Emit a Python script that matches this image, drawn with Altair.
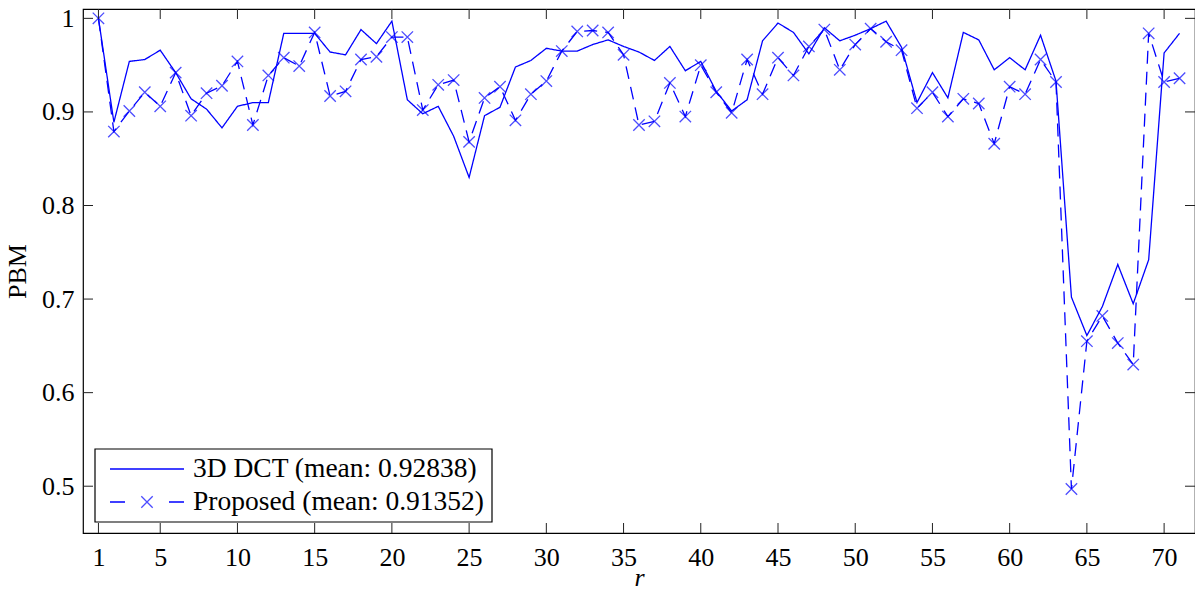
import altair as alt
import pandas as pd

# Frame index r = 1..71
r_values = list(range(1, 72))

# PBM per frame, 3D DCT method
dct_pbm = [
    1.000, 0.889, 0.954, 0.956, 0.966, 0.942, 0.914, 0.903, 0.883, 0.906,
    0.910, 0.910, 0.984, 0.984, 0.984, 0.964, 0.961, 0.988, 0.973, 0.997,
    0.913, 0.898, 0.906, 0.874, 0.830, 0.896, 0.905, 0.948, 0.955, 0.968,
    0.965, 0.965, 0.972, 0.977, 0.970, 0.964, 0.955, 0.970, 0.944, 0.954,
    0.922, 0.901, 0.913, 0.976, 0.995, 0.985, 0.962, 0.990, 0.976, 0.982,
    0.989, 0.997, 0.969, 0.910, 0.942, 0.915, 0.985, 0.977, 0.945, 0.958,
    0.945, 0.982, 0.933, 0.702, 0.661, 0.692, 0.737, 0.695, 0.742, 0.963,
    0.984,
]

# PBM per frame, proposed method
proposed_pbm = [
    1.000, 0.879, 0.901, 0.921, 0.906, 0.942, 0.896, 0.920, 0.928, 0.954,
    0.886, 0.939, 0.958, 0.949, 0.985, 0.917, 0.922, 0.956, 0.959, 0.980,
    0.980, 0.902, 0.929, 0.934, 0.868, 0.915, 0.927, 0.891, 0.919, 0.933,
    0.965, 0.986, 0.987, 0.985, 0.961, 0.886, 0.890, 0.931, 0.895, 0.950,
    0.921, 0.899, 0.956, 0.919, 0.958, 0.939, 0.970, 0.988, 0.945, 0.972,
    0.989, 0.975, 0.966, 0.904, 0.921, 0.895, 0.914, 0.909, 0.866, 0.927,
    0.919, 0.956, 0.932, 0.497, 0.655, 0.682, 0.653, 0.630, 0.984, 0.932,
    0.936,
]

series_names = ["3D DCT (mean: 0.92838)", "Proposed (mean: 0.91352)"]
x_ticks = [1, 5, 10, 15, 20, 25, 30, 35, 40, 45, 50, 55, 60, 65, 70]
y_ticks = [0.5, 0.6, 0.7, 0.8, 0.9, 1.0]

W, H = 1112, 524
FONT = "Liberation Serif"
BLUE = "#0000ff"
TICK_LEN = 10
LINE_W = 1.3
DASH = [13, 8]

# thin "x" marker
X_MARK = "M-1,-1L1,1M-1,1L1,-1"
MARK_SIZE = 130

df = pd.DataFrame({
    "r": r_values * 2,
    "pbm": dct_pbm + proposed_pbm,
    "series": [series_names[0]] * len(r_values) + [series_names[1]] * len(r_values),
})
xt = pd.DataFrame({"r": x_ticks})
yt = pd.DataFrame({"pbm": y_ticks})

x_scale = alt.Scale(domain=[0, 72], nice=False, zero=False)
y_scale = alt.Scale(domain=[0.45, 1.01], nice=False, zero=False)

x_axis = alt.Axis(
    values=x_ticks, title="r", grid=False, domain=False, ticks=False, tickSize=0,
    labelFont=FONT, labelFontSize=26, labelColor="black", labelPadding=11,
    labelFlush=False, labelOverlap=False,
    titleFont=FONT, titleFontSize=26, titleFontStyle="italic",
    titleFontWeight="normal", titleColor="black",
    titleBaseline="alphabetic", titleY=52,
)
y_axis = alt.Axis(
    values=y_ticks, format=".1~f", title="PBM", grid=False, domain=False,
    ticks=False, tickSize=0,
    labelFont=FONT, labelFontSize=26, labelColor="black", labelPadding=9,
    titleFont=FONT, titleFontSize=26, titleFontWeight="normal",
    titleColor="black", titleAngle=270, titleAlign="center",
    titleBaseline="middle", titleX=-66, titleY=H / 2,
)

X = alt.X("r:Q", scale=x_scale, axis=x_axis)
Y = alt.Y("pbm:Q", scale=y_scale, axis=y_axis)

# --- data series -----------------------------------------------------------
lines = alt.Chart(df).mark_line(color=BLUE, strokeWidth=LINE_W).encode(
    x=X, y=Y,
    strokeDash=alt.StrokeDash(
        "series:N",
        scale=alt.Scale(domain=series_names, range=[[1, 0], DASH]),
        legend=None,
    ),
)

markers = alt.Chart(df).transform_filter(
    alt.datum.series == series_names[1]
).mark_point(
    shape=X_MARK, filled=False, color=BLUE, size=MARK_SIZE, strokeWidth=LINE_W
).encode(x=X, y=Y)

# --- inward ticks on all four sides ----------------------------------------
tick_style = dict(color="#222222", strokeWidth=1)
bottom_ticks = alt.Chart(xt).mark_rule(**tick_style).encode(
    x=X, y=alt.value(H), y2=alt.value(H - TICK_LEN))
top_ticks = alt.Chart(xt).mark_rule(**tick_style).encode(
    x=X, y=alt.value(0), y2=alt.value(TICK_LEN))
left_ticks = alt.Chart(yt).mark_rule(**tick_style).encode(
    y=Y, x=alt.value(0), x2=alt.value(TICK_LEN))
right_ticks = alt.Chart(yt).mark_rule(**tick_style).encode(
    y=Y, x=alt.value(W - TICK_LEN), x2=alt.value(W))

# --- boxed legend in the lower-left corner ---------------------------------
LEG_X0, LEG_X1 = 12, 409          # box left / right
LEG_Y0, LEG_Y1 = 440, 513         # box top / bottom
ROW_Y = [460, 493]                # row centres
SAMPLE_X0, SAMPLE_X1 = 27, 101    # line sample extent
TEXT_X = 110

one = pd.DataFrame({"k": [0]})
legend_box = alt.Chart(one).mark_rect(
    fill="white", stroke="black", strokeWidth=1.2
).encode(
    x=alt.value(LEG_X0), x2=alt.value(LEG_X1),
    y=alt.value(LEG_Y0), y2=alt.value(LEG_Y1),
)
sample_solid = alt.Chart(one).mark_rule(color=BLUE, strokeWidth=LINE_W).encode(
    x=alt.value(SAMPLE_X0), x2=alt.value(SAMPLE_X1),
    y=alt.value(ROW_Y[0]), y2=alt.value(ROW_Y[0]),
)
sample_dashed = alt.Chart(one).mark_rule(
    color=BLUE, strokeWidth=LINE_W, strokeDash=[15, 44]
).encode(
    x=alt.value(SAMPLE_X0), x2=alt.value(SAMPLE_X1),
    y=alt.value(ROW_Y[1]), y2=alt.value(ROW_Y[1]),
)
sample_marker = alt.Chart(one).mark_point(
    shape=X_MARK, filled=False, color=BLUE, size=MARK_SIZE, strokeWidth=LINE_W
).encode(
    x=alt.value((SAMPLE_X0 + SAMPLE_X1) / 2), y=alt.value(ROW_Y[1]),
)
legend_labels = [
    alt.Chart(pd.DataFrame({"label": [name]})).mark_text(
        align="left", baseline="middle", font=FONT, fontSize=27.5, color="black"
    ).encode(
        text="label:N", x=alt.value(TEXT_X), y=alt.value(row_y),
    )
    for name, row_y in zip(series_names, ROW_Y)
]

chart = alt.layer(
    lines, markers, bottom_ticks, top_ticks, left_ticks, right_ticks,
    legend_box, sample_solid, sample_dashed, sample_marker, *legend_labels
).properties(
    width=W, height=H,
    autosize=alt.AutoSizeParams(type="none"),
    padding={"left": 83, "top": 9, "right": 0, "bottom": 57},
    background="white",
).configure(
    font=FONT
).configure_view(stroke="black", strokeWidth=1.2)

chart.save("out.html", embed_options={"renderer": "svg", "actions": False})
